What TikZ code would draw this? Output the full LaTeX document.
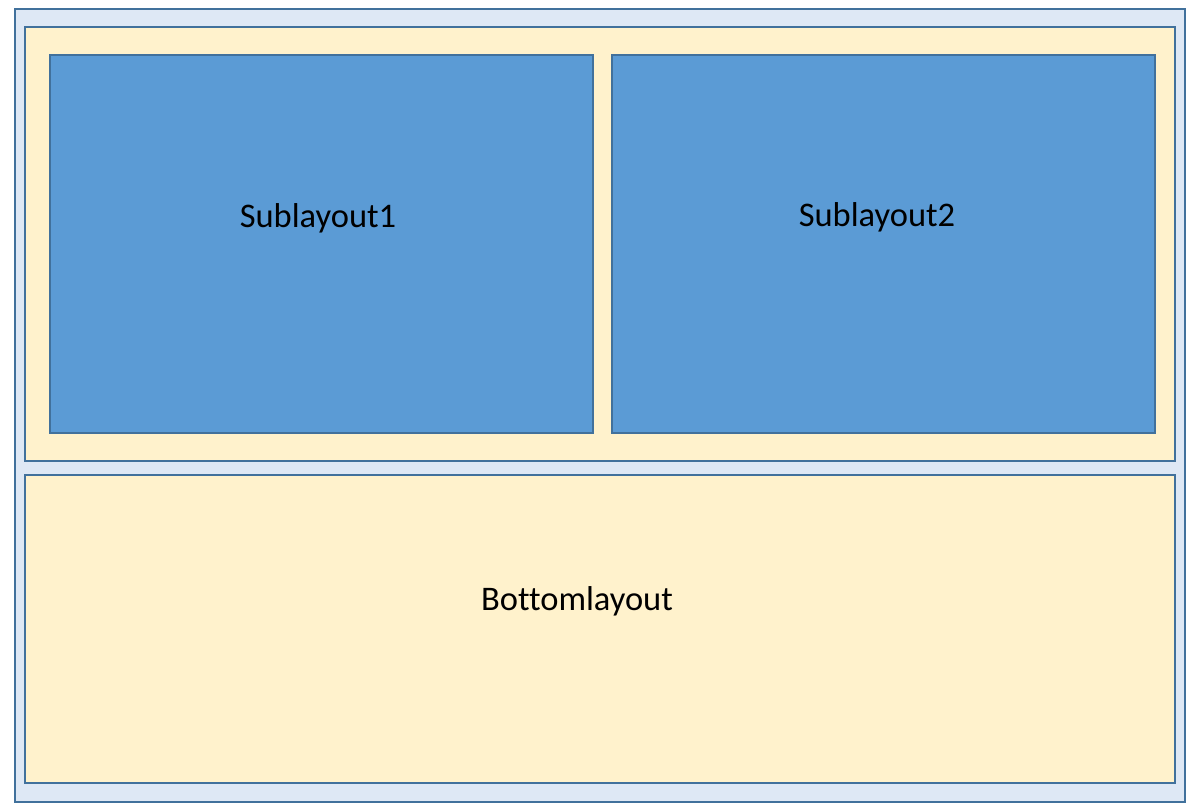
\documentclass[tikz,border=0pt]{standalone}
\usepackage{fontspec}
\setmainfont{Carlito}[Ligatures={NoCommon}]
\definecolor{outerfill}{HTML}{DEE8F5}
\definecolor{yellowfill}{HTML}{FFF2CC}
\definecolor{bluefill}{HTML}{5B9BD5}
\definecolor{edgeblue}{HTML}{41719C}
\tikzset{
  box/.style={draw=edgeblue, line width=1.8pt},
  outerbox/.style={box, fill=outerfill},
  yellowbox/.style={box, fill=yellowfill},
  bluebox/.style={box, fill=bluefill},
  lbl/.style={font=\fontsize{34.5}{40}\selectfont, text=black, inner sep=0pt, anchor=base}
}
\begin{document}
\begin{tikzpicture}[x=1pt,y=-1pt]
\useasboundingbox (0,0) rectangle (1190,806);
\fill[white] (0,0) rectangle (1190,806);
\draw[outerbox] (15,9) rectangle (1185,802);
\draw[yellowbox] (25,27) rectangle (1175,461);
\draw[bluebox] (50,55) rectangle (593,433);
\draw[bluebox] (612,55) rectangle (1155,433);
\draw[yellowbox] (25,475) rectangle (1175,783);
\node[lbl] (s1) at (318,227.5) {Sublayout1};
\node[lbl] (s2) at (877,226.5) {Sublayout2};
\node[lbl] (bl) at (577,610) {Bottomlayout};
\end{tikzpicture}
\end{document}
